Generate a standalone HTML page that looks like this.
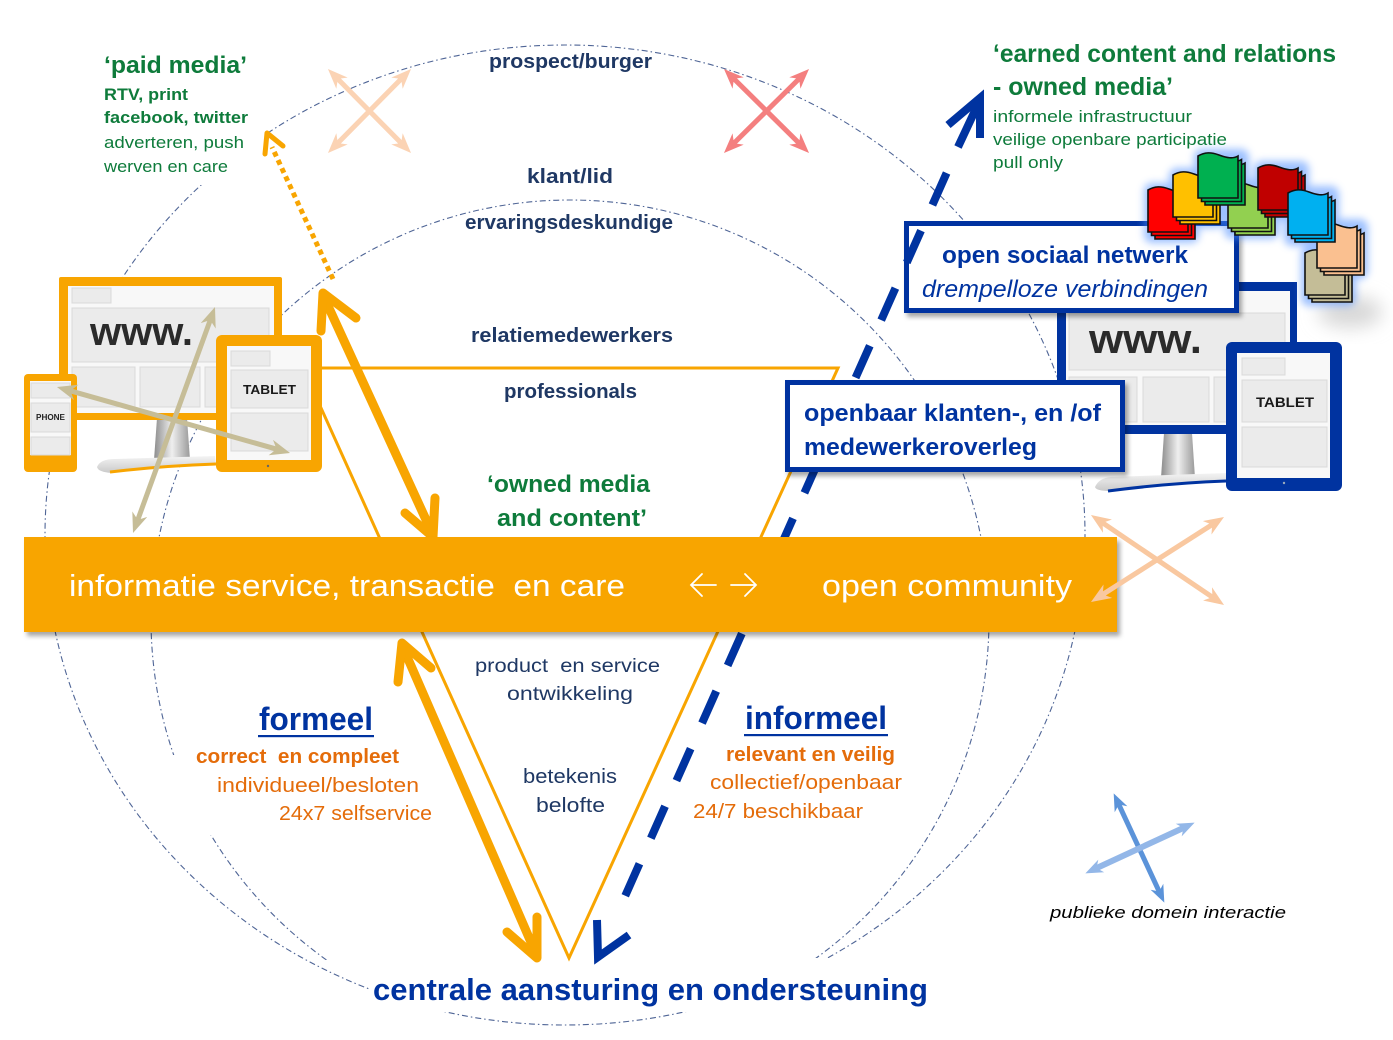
<!DOCTYPE html>
<html><head><meta charset="utf-8">
<style>
html,body{margin:0;padding:0;background:#fff;width:1393px;height:1040px;overflow:hidden}
svg{display:block}
text{font-family:"Liberation Sans",Arial,sans-serif;white-space:pre}
</style></head><body>
<svg xmlns="http://www.w3.org/2000/svg" width="1393" height="1040" viewBox="0 0 1393 1040">
<defs>
<filter id="sh" x="-10%" y="-20%" width="125%" height="160%"><feDropShadow dx="3" dy="4" stdDeviation="2.5" flood-color="#000" flood-opacity="0.35"/></filter>
<filter id="bl" x="-50%" y="-50%" width="200%" height="200%"><feGaussianBlur stdDeviation="4"/></filter>
<filter id="bl2" x="-50%" y="-50%" width="200%" height="200%"><feGaussianBlur stdDeviation="9"/></filter>
<linearGradient id="gst" x1="0" x2="1" y1="0" y2="0"><stop offset="0" stop-color="#8c8c8c"/><stop offset="0.5" stop-color="#efefef"/><stop offset="1" stop-color="#9a9a9a"/></linearGradient>
<linearGradient id="gbase" x1="0" x2="0" y1="0" y2="1"><stop offset="0" stop-color="#f4f4f4"/><stop offset="1" stop-color="#c9c9c9"/></linearGradient>
<mask id="cm"><rect width="1393" height="1040" fill="#fff"/><rect x="195" y="133" width="75" height="52" fill="#000"/><rect x="370" y="958" width="530" height="54" fill="#000"/><rect x="160" y="755" width="55" height="80" fill="#000"/></mask>
<clipPath id="cb"><rect x="0" y="0" width="1393" height="960"/></clipPath>
<marker id="mTan" viewBox="0 0 20 16" refX="8" refY="8" markerWidth="20" markerHeight="16" markerUnits="userSpaceOnUse" orient="auto-start-reverse"><path d="M0,0 L20,8 L0,16 L6,8 Z" fill="#C6BD97"/></marker>
<marker id="mPe" viewBox="0 0 20 16" refX="8" refY="8" markerWidth="20" markerHeight="16" markerUnits="userSpaceOnUse" orient="auto-start-reverse"><path d="M0,0 L20,8 L0,16 L6,8 Z" fill="#FBD3B4"/></marker>
<marker id="mRd" viewBox="0 0 20 16" refX="8" refY="8" markerWidth="20" markerHeight="16" markerUnits="userSpaceOnUse" orient="auto-start-reverse"><path d="M0,0 L20,8 L0,16 L6,8 Z" fill="#F47F7F"/></marker>
<marker id="mPe2" viewBox="0 0 20 16" refX="8" refY="8" markerWidth="20" markerHeight="16" markerUnits="userSpaceOnUse" orient="auto-start-reverse"><path d="M0,0 L20,8 L0,16 L6,8 Z" fill="#F9C8A0"/></marker>
<marker id="mB1" viewBox="0 0 20 16" refX="8" refY="8" markerWidth="20" markerHeight="14" markerUnits="userSpaceOnUse" orient="auto-start-reverse"><path d="M0,0 L20,8 L0,16 L6,8 Z" fill="#5B93D9"/></marker>
<marker id="mB2" viewBox="0 0 20 16" refX="8" refY="8" markerWidth="20" markerHeight="14" markerUnits="userSpaceOnUse" orient="auto-start-reverse"><path d="M0,0 L20,8 L0,16 L6,8 Z" fill="#93B7E8"/></marker>
<path id="pg" d="M0,3 C7,-1 13,-1 21,2 C29,5 35,6 40,3 L40,45 L0,45 Z" stroke="#111" stroke-width="1.6"/>
</defs>

<rect width="1393" height="1040" fill="#fff"/>

<!-- dash-dot rings -->
<g fill="none" stroke="#4F6596" stroke-width="1.1" stroke-dasharray="6 3 1.5 3" mask="url(#cm)">
<ellipse cx="565" cy="535" rx="520" ry="490"/>
<circle cx="570" cy="619" r="419" clip-path="url(#cb)"/>
</g>

<!-- thin orange triangle -->
<path d="M303,368 L838,368 L569,958 Z" fill="none" stroke="#F8A501" stroke-width="3" stroke-linejoin="miter"/>

<!-- thick orange arrows -->
<g fill="none" stroke="#F8A501" stroke-width="9" stroke-linecap="round" stroke-linejoin="round">
<path d="M323,295 L433,535"/>
<path d="M321,331 L323,293 L356,318"/>
<path d="M435,498 L433,537 L405,513"/>
<path d="M402,645 L537,956"/>
<path d="M398,682 L402,643 L431,668"/>
<path d="M537,917 L537,958 L507,932"/>
</g>

<!-- dotted orange arrow -->
<path d="M333,279 L272,147" stroke="#F8A501" stroke-width="5" stroke-dasharray="5 4" fill="none"/>
<path d="M265,154 L267,133 L283,146" stroke="#F8A501" stroke-width="5" fill="none" stroke-linecap="round" stroke-linejoin="round"/>

<!-- LEFT DEVICES (orange) -->
<g>
<path d="M157,418 L187,418 L190,460 L154,460 Z" fill="url(#gst)"/>
<path d="M97,467 Q100,459 115,459 L215,456 L216,464 Q160,466 112,473 Q98,472 97,467 Z" fill="url(#gbase)"/>
<path d="M110,472 Q160,466 216,464" stroke="#F8A501" stroke-width="3" fill="none"/>
<rect x="59" y="277" width="223" height="143" rx="2" fill="#F8A501"/>
<rect x="68" y="286" width="206" height="127" fill="#f8f8f8"/>
<g fill="#ebebeb" stroke="#dadada" stroke-width="1">
<rect x="72" y="288" width="39" height="15"/>
<rect x="72" y="308" width="197" height="54"/>
<rect x="72" y="367" width="63" height="40"/>
<rect x="140" y="367" width="60" height="40"/>
<rect x="205" y="367" width="64" height="40"/>
</g>
<text x="90" y="345" font-size="40" font-weight="bold" fill="#2b2b2b" textLength="103" lengthAdjust="spacingAndGlyphs">www.</text>
<!-- phone -->
<rect x="24" y="374" width="53" height="98" rx="4" fill="#F8A501"/>
<rect x="30" y="381" width="41" height="74" fill="#f8f8f8"/>
<g fill="#ebebeb" stroke="#dadada" stroke-width="1">
<rect x="31" y="383" width="39" height="15"/>
<rect x="31" y="403" width="39" height="29"/>
<rect x="31" y="437" width="39" height="18"/>
</g>
<text x="36" y="420" font-size="8" font-weight="bold" fill="#222" textLength="29" lengthAdjust="spacingAndGlyphs">PHONE</text>
<!-- tablet -->
<rect x="216" y="335" width="106" height="137" rx="6" fill="#F8A501"/>
<rect x="227" y="346" width="84" height="114" fill="#f8f8f8"/>
<g fill="#ebebeb" stroke="#dadada" stroke-width="1">
<rect x="231" y="351" width="39" height="15"/>
<rect x="231" y="370" width="77" height="38"/>
<rect x="231" y="413" width="77" height="38"/>
</g>
<text x="243" y="394" font-size="13" font-weight="bold" fill="#1a1a1a" textLength="53" lengthAdjust="spacingAndGlyphs">TABLET</text>
<circle cx="268" cy="466" r="1.2" fill="#666"/>
</g>
<!-- tan arrows -->
<g fill="none" stroke="#C6BD97" stroke-width="5">
<path d="M137.1,521.7 L210.9,318.3" marker-start="url(#mTan)" marker-end="url(#mTan)"/>
<path d="M68.5,390.3 L278.5,449.7" marker-start="url(#mTan)" marker-end="url(#mTan)"/>
</g>

<!-- RIGHT DEVICES (blue) -->
<ellipse cx="1350" cy="312" rx="32" ry="16" fill="#d8d8d8" filter="url(#bl2)"/>
<g>
<path d="M1164,433 L1192,433 L1195,478 L1161,478 Z" fill="url(#gst)"/>
<path d="M1095,487 Q1099,478 1111,477 L1226,473 L1226,481 Q1170,483 1111,491 Q1096,491 1095,487 Z" fill="url(#gbase)"/>
<path d="M1108,491 Q1170,483 1226,481" stroke="#0033A0" stroke-width="3" fill="none"/>
<rect x="1057" y="282" width="240" height="152" fill="#0033A0"/>
<rect x="1066" y="291" width="224" height="134" fill="#f8f8f8"/>
<g fill="#ebebeb" stroke="#dadada" stroke-width="1">
<rect x="1069" y="313" width="216" height="57"/>
<rect x="1069" y="377" width="68" height="45"/>
<rect x="1143" y="377" width="66" height="45"/>
<rect x="1214" y="377" width="70" height="45"/>
</g>
<text x="1089" y="353" font-size="42" font-weight="bold" fill="#2b2b2b" textLength="113" lengthAdjust="spacingAndGlyphs">www.</text>
<rect x="1226" y="342" width="116" height="149" rx="6" fill="#0033A0"/>
<rect x="1237" y="353" width="93" height="125" fill="#f8f8f8"/>
<g fill="#ebebeb" stroke="#dadada" stroke-width="1">
<rect x="1242" y="358" width="43" height="17"/>
<rect x="1242" y="380" width="85" height="42"/>
<rect x="1242" y="427" width="85" height="40"/>
</g>
<text x="1256" y="407" font-size="14" font-weight="bold" fill="#1a1a1a" textLength="58" lengthAdjust="spacingAndGlyphs">TABLET</text>
<circle cx="1284" cy="483" r="1.2" fill="#9ab"/>
</g>

<!-- open sociaal netwerk box -->
<rect x="906.5" y="223.5" width="330" height="87" fill="#fff" stroke="#0033A0" stroke-width="5" filter="url(#sh)"/>
<text x="942" y="263" font-size="24" font-weight="bold" fill="#0033A0" textLength="246" lengthAdjust="spacingAndGlyphs">open sociaal netwerk</text>
<text x="922" y="297" font-size="24" font-style="italic" fill="#0033A0" textLength="286" lengthAdjust="spacingAndGlyphs">drempelloze verbindingen</text>

<!-- folders glow -->
<g fill="#4d8eff" opacity="0.55" filter="url(#bl)">
<rect x="1144" y="183" width="55" height="60" rx="8"/>
<rect x="1169" y="168" width="55" height="60" rx="8"/>
<rect x="1194" y="149" width="55" height="60" rx="8"/>
<rect x="1224" y="179" width="55" height="60" rx="8"/>
<rect x="1254" y="161" width="55" height="60" rx="8"/>
<rect x="1284" y="186" width="55" height="60" rx="8"/>
<rect x="1313" y="219" width="55" height="60" rx="8"/>
<rect x="1301" y="246" width="55" height="60" rx="8"/>
</g>
<!-- folders -->
<g transform="translate(1228,183)" fill="#92D050"><use href="#pg" x="7" y="7"/><use href="#pg" x="3.5" y="3.5"/><use href="#pg"/></g>
<g transform="translate(1148,187)" fill="#FF0000"><use href="#pg" x="7" y="7"/><use href="#pg" x="3.5" y="3.5"/><use href="#pg"/></g>
<g transform="translate(1173,172)" fill="#FFC000"><use href="#pg" x="7" y="7"/><use href="#pg" x="3.5" y="3.5"/><use href="#pg"/></g>
<g transform="translate(1198,153)" fill="#00B050"><use href="#pg" x="7" y="7"/><use href="#pg" x="3.5" y="3.5"/><use href="#pg"/></g>
<g transform="translate(1258,165)" fill="#C00000"><use href="#pg" x="7" y="7"/><use href="#pg" x="3.5" y="3.5"/><use href="#pg"/></g>
<g transform="translate(1305,250)" fill="#C4BD97"><use href="#pg" x="7" y="7"/><use href="#pg" x="3.5" y="3.5"/><use href="#pg"/></g>
<g transform="translate(1317,223)" fill="#FAC090"><use href="#pg" x="7" y="7"/><use href="#pg" x="3.5" y="3.5"/><use href="#pg"/></g>
<g transform="translate(1288,190)" fill="#00B0F0"><use href="#pg" x="7" y="7"/><use href="#pg" x="3.5" y="3.5"/><use href="#pg"/></g>

<!-- blue dashed arrow -->
<g fill="none" stroke="#0033A0" stroke-width="8">
<path d="M948,125 L980,98 L980,138" stroke-linejoin="miter"/>
<path d="M980,100 L958,147"/>
<path d="M946.6,173 L624.7,897" stroke-dasharray="35 28"/>
<path d="M597,920 L598,957 L629,935" stroke-linejoin="miter"/>
</g>

<!-- openbaar box -->
<rect x="787.5" y="382.5" width="335" height="87" fill="#fff" stroke="#0033A0" stroke-width="5" filter="url(#sh)"/>
<text x="804" y="421" font-size="24" font-weight="bold" fill="#0033A0" textLength="297" lengthAdjust="spacingAndGlyphs">openbaar klanten-, en /of</text>
<text x="804" y="455" font-size="24" font-weight="bold" fill="#0033A0" textLength="233" lengthAdjust="spacingAndGlyphs">medewerkeroverleg</text>

<!-- orange band -->
<rect x="24" y="537" width="1093" height="95" fill="#F8A501" filter="url(#sh)"/>
<text x="69" y="596" font-size="31" fill="#fff" textLength="556" lengthAdjust="spacingAndGlyphs">informatie service, transactie  en care</text>
<g stroke="#fff" stroke-width="1.8" fill="none" stroke-linecap="round">
<path d="M691,585 L716,585 M702,574 L691,585 L702,596"/>
<path d="M731,585 L756,585 M745,574 L756,585 L745,596"/>
</g>
<text x="822" y="596" font-size="31" fill="#fff" textLength="250" lengthAdjust="spacingAndGlyphs">open community</text>

<!-- X arrows -->
<g fill="none" stroke-width="5">
<path d="M336.4,144.5 L402.6,77.5" stroke="#FBD3B4" marker-start="url(#mPe)" marker-end="url(#mPe)"/>
<path d="M336.4,77.5 L402.6,144.5" stroke="#FBD3B4" marker-start="url(#mPe)" marker-end="url(#mPe)"/>
<path d="M732.5,144.6 L800.5,77.4" stroke="#F47F7F" marker-start="url(#mRd)" marker-end="url(#mRd)"/>
<path d="M732.5,77.4 L800.5,144.6" stroke="#F47F7F" marker-start="url(#mRd)" marker-end="url(#mRd)"/>
<path d="M1101.1,595.5 L1213.9,523.5" stroke="#F9C8A0" marker-start="url(#mPe2)" marker-end="url(#mPe2)"/>
<path d="M1100.9,521.7 L1214.1,598.3" stroke="#F9C8A0" marker-start="url(#mPe2)" marker-end="url(#mPe2)"/>
<path d="M1118.1,802.9 L1159.9,893.1" stroke="#5B93D9" marker-start="url(#mB1)" marker-end="url(#mB1)"/>
<path d="M1094.9,868.9 L1185.1,827.1" stroke="#93B7E8" stroke-width="6" marker-start="url(#mB2)" marker-end="url(#mB2)"/>
</g>

<!-- texts: paid media -->
<g fill="#0E7B3B">
<text x="104" y="73" font-size="24" font-weight="bold" textLength="143" lengthAdjust="spacingAndGlyphs">‘paid media’</text>
<text x="104" y="100" font-size="16.5" font-weight="bold" textLength="84" lengthAdjust="spacingAndGlyphs">RTV, print</text>
<text x="104" y="123" font-size="16.5" font-weight="bold" textLength="144" lengthAdjust="spacingAndGlyphs">facebook, twitter</text>
<text x="104" y="148" font-size="17" textLength="140" lengthAdjust="spacingAndGlyphs">adverteren, push</text>
<text x="104" y="172" font-size="17" textLength="124" lengthAdjust="spacingAndGlyphs">werven en care</text>
<text x="993" y="62" font-size="25" font-weight="bold" textLength="343" lengthAdjust="spacingAndGlyphs">‘earned content and relations</text>
<text x="993" y="95" font-size="25" font-weight="bold" textLength="180" lengthAdjust="spacingAndGlyphs">- owned media’</text>
<text x="993" y="122" font-size="17" textLength="199" lengthAdjust="spacingAndGlyphs">informele infrastructuur</text>
<text x="993" y="145" font-size="17" textLength="234" lengthAdjust="spacingAndGlyphs">veilige openbare participatie</text>
<text x="993" y="168" font-size="17" textLength="70" lengthAdjust="spacingAndGlyphs">pull only</text>
<text x="487" y="492" font-size="24" font-weight="bold" textLength="163" lengthAdjust="spacingAndGlyphs">‘owned media</text>
<text x="497" y="526" font-size="24" font-weight="bold" textLength="150" lengthAdjust="spacingAndGlyphs">and content’</text>
</g>

<!-- navy labels -->
<g fill="#1F3864">
<text x="489" y="68" font-size="20" font-weight="bold" textLength="163" lengthAdjust="spacingAndGlyphs">prospect/burger</text>
<text x="527" y="183" font-size="20" font-weight="bold" textLength="86" lengthAdjust="spacingAndGlyphs">klant/lid</text>
<text x="465" y="229" font-size="20" font-weight="bold" textLength="208" lengthAdjust="spacingAndGlyphs">ervaringsdeskundige</text>
<text x="471" y="342" font-size="20" font-weight="bold" textLength="202" lengthAdjust="spacingAndGlyphs">relatiemedewerkers</text>
<text x="504" y="398" font-size="20" font-weight="bold" textLength="133" lengthAdjust="spacingAndGlyphs">professionals</text>
<text x="475" y="672" font-size="19" textLength="185" lengthAdjust="spacingAndGlyphs">product  en service</text>
<text x="507" y="700" font-size="19" textLength="126" lengthAdjust="spacingAndGlyphs">ontwikkeling</text>
<text x="523" y="783" font-size="20" textLength="94" lengthAdjust="spacingAndGlyphs">betekenis</text>
<text x="536" y="812" font-size="20" textLength="69" lengthAdjust="spacingAndGlyphs">belofte</text>
</g>

<!-- formeel / informeel -->
<g fill="#0033A0">
<text x="259" y="730" font-size="32" font-weight="bold" textLength="114" lengthAdjust="spacingAndGlyphs">formeel</text>
<rect x="258" y="735" width="116" height="2.2"/>
<text x="745" y="729" font-size="32" font-weight="bold" textLength="142" lengthAdjust="spacingAndGlyphs">informeel</text>
<rect x="744" y="734" width="144" height="2.2"/>
<text x="373" y="1000" font-size="31" font-weight="bold" textLength="555" lengthAdjust="spacingAndGlyphs">centrale aansturing en ondersteuning</text>
</g>
<g fill="#E46C0A">
<text x="196" y="763" font-size="20" font-weight="bold" textLength="203" lengthAdjust="spacingAndGlyphs">correct  en compleet</text>
<text x="217" y="792" font-size="20" textLength="202" lengthAdjust="spacingAndGlyphs">individueel/besloten</text>
<text x="279" y="820" font-size="20" textLength="153" lengthAdjust="spacingAndGlyphs">24x7 selfservice</text>
<text x="726" y="761" font-size="20" font-weight="bold" textLength="169" lengthAdjust="spacingAndGlyphs">relevant en veilig</text>
<text x="710" y="789" font-size="20" textLength="192" lengthAdjust="spacingAndGlyphs">collectief/openbaar</text>
<text x="693" y="818" font-size="20" textLength="170" lengthAdjust="spacingAndGlyphs">24/7 beschikbaar</text>
</g>
<text x="1050" y="918" font-size="17" font-style="italic" fill="#000" textLength="236" lengthAdjust="spacingAndGlyphs">publieke domein interactie</text>
</svg>
</body></html>
